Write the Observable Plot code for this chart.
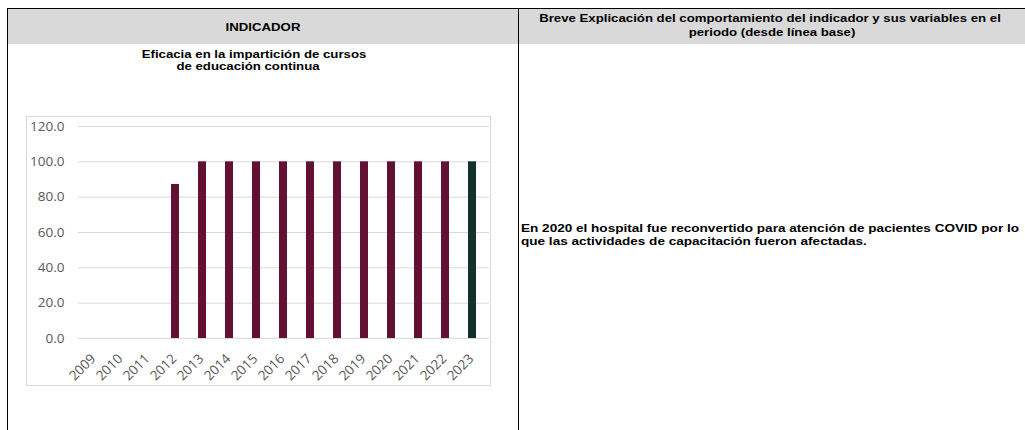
<!DOCTYPE html>
<html>
<head>
<meta charset="utf-8">
<script src="https://cdn.jsdelivr.net/npm/d3@7"></script>
<script src="https://cdn.jsdelivr.net/npm/@observablehq/plot@0.6"></script>
<style>
  html, body { margin: 0; padding: 0; background: #fff; }
  body { width: 1025px; height: 430px; position: relative; overflow: hidden; font-family: "Liberation Sans", Arial, sans-serif; }
  .abs { position: absolute; }
  .hdr { background: #d9d9d9; }
  .line { background: #000; }
  .txt { font-weight: bold; font-size: 11.7px; line-height: 13px; color: #000; white-space: nowrap; }
  .ctr { transform: translateX(-50%) scaleX(1.13); text-align: center; }
  .lft { transform-origin: 0 0; transform: scaleX(1.16); }
  #chart { left: 26px; top: 116px; border: 1px solid #d9d9d9; background: #fff; }
  #chart svg { display: block; }
</style>
</head>
<body>
  <div class="abs hdr" style="left:7px; top:9px; width:1018px; height:35px;"></div>
  <div class="abs line" style="left:7px; top:8px; width:1018px; height:1px;"></div>
  <div class="abs line" style="left:7px; top:8px; width:1px; height:422px;"></div>
  <div class="abs line" style="left:518px; top:8px; width:1px; height:422px;"></div>

  <div class="abs txt ctr" style="left:262.5px; top:20.3px;">INDICADOR</div>
  <div class="abs txt ctr" style="left:770px; top:10.8px;">Breve Explicación del comportamiento del indicador y sus variables en el</div>
  <div class="abs txt ctr" style="left:772px; top:24.6px;">periodo (desde línea base)</div>

  <div class="abs txt ctr" style="left:253.5px; top:47px;">Eficacia en la impartición de cursos</div>
  <div class="abs txt ctr" style="left:248px; top:59px;">de educación continua</div>

  <div class="abs txt lft" style="left:521px; top:221.3px;">En 2020 el hospital fue reconvertido para atención de pacientes COVID por lo</div>
  <div class="abs txt lft" style="left:521px; top:234.3px;">que las actividades de capacitación fueron afectadas.</div>

  <div id="chart" class="abs"></div>

<script>
const years = ["2009","2010","2011","2012","2013","2014","2015","2016","2017","2018","2019","2020","2021","2022","2023"];
const values = [null, null, null, 87.2, 100, 100, 100, 100, 100, 100, 100, 100, 100, 100, 100];
const yTicks = [0, 20, 40, 60, 80, 100, 120];
const currentYear = "2023";

const data = years.map((year, i) => ({year, value: values[i]})).filter(d => d.value != null);

const chart = Plot.plot({
  width: 463,
  height: 268,
  marginLeft: 51,
  marginRight: 1,
  marginTop: 9,
  marginBottom: 47,
  style: {fontFamily: "'Open Sans', sans-serif", fontSize: "13.5px", color: "#595959", background: "#fff", overflow: "visible"},
  x: {domain: years, paddingInner: 0.7, paddingOuter: 0.35, axis: null},
  y: {domain: [0, 120], ticks: yTicks, tickFormat: d => d.toFixed(1), label: null, tickSize: 0, tickPadding: 14},
  marks: [
    Plot.gridY(yTicks, {stroke: "#d9d9d9", strokeOpacity: 1, strokeWidth: 1}),
    Plot.barY(data, {x: "year", y: "value", fill: d => d.year === currentYear ? "#13322b" : "#621132"}),
    Plot.text(years, {x: d => d, frameAnchor: "bottom", rotate: -45, textAnchor: "end", lineAnchor: "bottom", dx: 2, dy: 21, fontSize: 13.5, fill: "#595959"})
  ]
});
document.getElementById("chart").appendChild(chart);
</script>
</body>
</html>
